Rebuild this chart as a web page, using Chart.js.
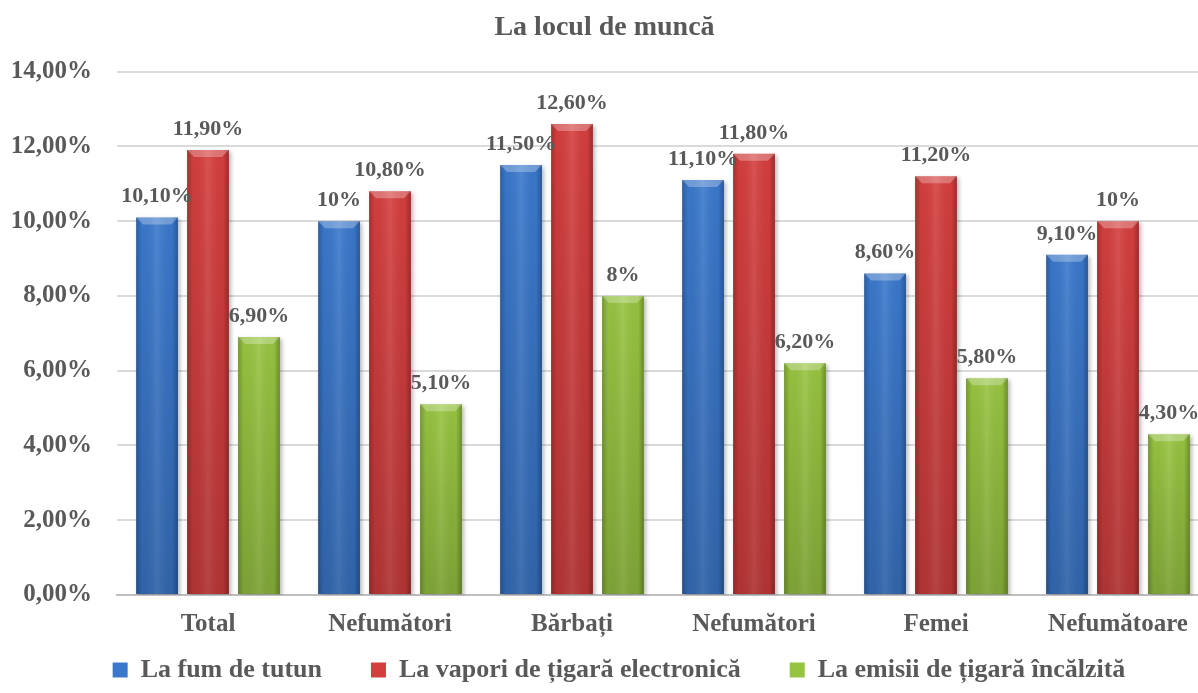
<!DOCTYPE html>
<html>
<head>
<meta charset="utf-8">
<script src="https://cdn.jsdelivr.net/npm/chart.js@4"></script>
<style>
  html, body { margin: 0; padding: 0; background: #fff; overflow: hidden; }
  #wrap { width: 1210px; height: 693px; }
</style>
</head>
<body>
<div id="wrap"><canvas id="chart" width="1210" height="693"></canvas></div>
<script>
// data
const categories = ['Total', 'Nefumători', 'Bărbați', 'Nefumători', 'Femei', 'Nefumătoare'];
const seriesNames = ['La fum de tutun', 'La vapori de țigară electronică', 'La emisii de țigară încălzită'];
const fumTutun = [10.1, 10, 11.5, 11.1, 8.6, 9.1];
const vaporiElectronica = [11.9, 10.8, 12.6, 11.8, 11.2, 10];
const emisiiIncalzita = [6.9, 5.1, 8, 6.2, 5.8, 4.3];
const yTicks = [0, 2, 4, 6, 8, 10, 12, 14];

const colors = ['#3A78CC', '#D53E3E', '#97C440'];
const textColor = '#595959';
const font = "'Liberation Serif', 'Times New Roman', serif";

function pct(v, fixed) {
  if (!fixed && Number.isInteger(v)) return v + '%';
  return v.toFixed(2).replace('.', ',') + '%';
}

// shading on the bars, like the office bevel look
const bevelPlugin = {
  id: 'bevel',
  beforeDatasetsDraw(chart) {
    const ctx = chart.ctx;
    ctx.save();
    ctx.shadowColor = 'rgba(0,0,0,0.28)';
    ctx.shadowBlur = 4;
    ctx.shadowOffsetX = 2;
    ctx.shadowOffsetY = 2;
  },
  afterDatasetsDraw(chart) {
    const ctx = chart.ctx;
    ctx.restore();
    chart.data.datasets.forEach((ds, di) => {
      chart.getDatasetMeta(di).data.forEach(bar => {
        const l = bar.x - bar.width / 2, r = bar.x + bar.width / 2;
        const t = bar.y, b = bar.base;
        // side shading
        let g = ctx.createLinearGradient(l, 0, r, 0);
        g.addColorStop(0, 'rgba(0,0,0,0.22)');
        g.addColorStop(0.14, 'rgba(0,0,0,0.02)');
        g.addColorStop(0.5, 'rgba(255,255,255,0.10)');
        g.addColorStop(0.86, 'rgba(0,0,0,0.02)');
        g.addColorStop(1, 'rgba(0,0,0,0.28)');
        ctx.fillStyle = g;
        ctx.fillRect(l, t, r - l, b - t);
        // darker towards the bottom
        g = ctx.createLinearGradient(0, t, 0, b);
        g.addColorStop(0, 'rgba(0,0,0,0)');
        g.addColorStop(1, 'rgba(0,0,0,0.16)');
        ctx.fillStyle = g;
        ctx.fillRect(l, t, r - l, b - t);
        // top bevel
        const d = 7;
        ctx.beginPath();
        ctx.moveTo(l, t);
        ctx.lineTo(r, t);
        ctx.lineTo(r - d, t + d);
        ctx.lineTo(l + d, t + d);
        ctx.closePath();
        ctx.fillStyle = 'rgba(255,255,255,0.28)';
        ctx.fill();
      });
    });
  }
};

// value labels above the bars
const labelPlugin = {
  id: 'valueLabels',
  afterDraw(chart) {
    const ctx = chart.ctx;
    ctx.save();
    ctx.font = 'bold 22px ' + font;
    ctx.fillStyle = textColor;
    ctx.textAlign = 'center';
    ctx.textBaseline = 'alphabetic';
    chart.data.datasets.forEach((ds, di) => {
      chart.getDatasetMeta(di).data.forEach((bar, i) => {
        ctx.fillText(pct(ds.data[i]), bar.x, bar.y - 15);
      });
    });
    ctx.restore();
  }
};

// move legend to where it sits in the original
const legendShift = {
  id: 'legendShift',
  afterLayout(chart) {
    const dx = 34;
    chart.legend.left += dx;
    chart.legend.right += dx;
  }
};

new Chart(document.getElementById('chart'), {
  type: 'bar',
  data: {
    labels: categories,
    datasets: [
      { label: seriesNames[0], data: fumTutun, backgroundColor: colors[0] },
      { label: seriesNames[1], data: vaporiElectronica, backgroundColor: colors[1] },
      { label: seriesNames[2], data: emisiiIncalzita, backgroundColor: colors[2] }
    ]
  },
  options: {
    responsive: false,
    animation: false,
    categoryPercentage: 0.84,
    barPercentage: 0.82,
    layout: { padding: { left: 0, right: 1, top: 0, bottom: 0 } },
    plugins: {
      title: {
        display: true,
        text: 'La locul de muncă',
        color: textColor,
        font: { family: font, size: 28, weight: 'bold' },
        padding: { top: 11, bottom: 27 }
      },
      legend: {
        position: 'bottom',
        labels: {
          color: textColor,
          font: { family: font, size: 26, weight: 'bold' },
          boxWidth: 15,
          boxHeight: 15,
          padding: 10,
          generateLabels(chart) {
            return chart.data.datasets.map((ds, i) => ({
              text: ds.label + '\u2003\u2002',
              fillStyle: colors[i],
              strokeStyle: colors[i],
              lineWidth: 0,
              datasetIndex: i,
              fontColor: textColor
            }));
          }
        }
      },
      tooltip: { enabled: false }
    },
    scales: {
      x: {
        grid: { display: false },
        border: { display: true, color: '#BFBFBF', width: 2 },
        ticks: {
          color: textColor,
          font: { family: font, size: 25, weight: 'bold' },
          padding: 7
        }
      },
      y: {
        min: 0,
        max: 14,
        afterBuildTicks(scale) { scale.ticks = yTicks.map(v => ({ value: v })); },
        afterFit(scale) { scale.width = 117; },
        grid: { color: '#DADADA', lineWidth: 2, drawTicks: false },
        border: { display: false },
        ticks: {
          color: textColor,
          font: { family: font, size: 25, weight: 'bold' },
          padding: 25,
          callback: v => pct(v, true)
        }
      }
    }
  },
  plugins: [bevelPlugin, labelPlugin, legendShift]
});
</script>
</body>
</html>
